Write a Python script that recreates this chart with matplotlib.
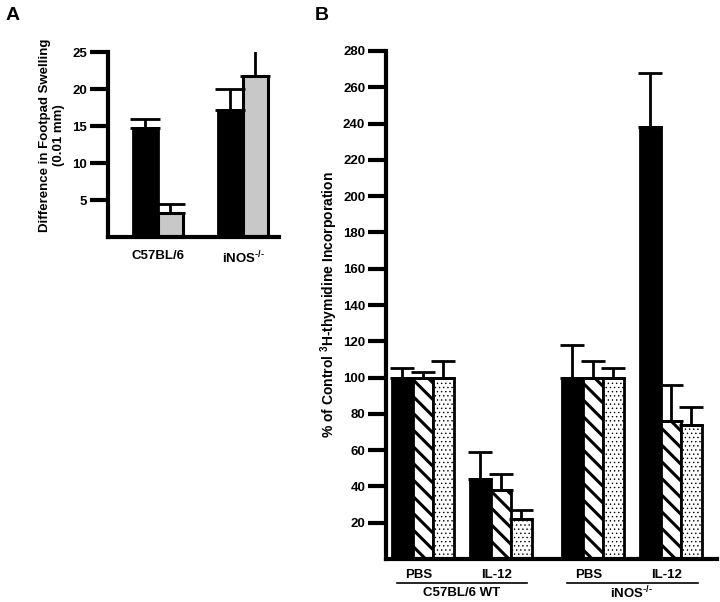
import numpy as np
import matplotlib
matplotlib.use('Agg')
import matplotlib.pyplot as plt

plt.rcParams['font.family'] = ['Liberation Sans', 'DejaVu Sans']
plt.rcParams['font.weight'] = 'bold'
plt.rcParams['axes.labelweight'] = 'bold'
plt.rcParams['mathtext.fontset'] = 'custom'
plt.rcParams['mathtext.rm'] = 'Liberation Sans:bold'
plt.rcParams['mathtext.bf'] = 'Liberation Sans:bold'
plt.rcParams['mathtext.default'] = 'bf'
plt.rcParams['hatch.linewidth'] = 2.2

# panel A: footpad swelling
a_groups = ['C57BL/6', r'iNOS$^{\text{-/-}}$']
a_black = [14.7, 17.2]
a_black_top = [16.0, 20.0]
a_gray = [3.2, 21.8]
a_gray_top = [4.5, 25.5]

# panel B: 3H-thymidine incorporation, 4 groups x 3 bars
b_sub = ['PBS', 'IL-12', 'PBS', 'IL-12']
b_strains = ['C57BL/6 WT', r'iNOS$^{\text{-/-}}$']
b_black = [100, 44, 100, 238]
b_black_top = [105.5, 59, 118, 268]
b_hatch = [100, 38, 100, 76]
b_hatch_top = [103, 47, 109, 96]
b_dot = [100, 22, 100, 74]
b_dot_top = [109, 27, 105.5, 84]

fig = plt.figure(figsize=(7.2, 6.02), dpi=100)

# ---- panel A
axA = fig.add_axes([0.150, 0.6063, 0.2375, 0.3073])
xa = np.array([0.0, 3.4])
w = 1.0
axA.bar(xa - w/2, a_black, w, color='black', edgecolor='black', linewidth=2)
axA.bar(xa + w/2, a_gray, w, color='#c8c8c8', edgecolor='black', linewidth=2.2)
axA.errorbar(xa - w/2, a_black, yerr=[np.zeros(2), np.array(a_black_top) - a_black],
             fmt='none', ecolor='black', elinewidth=2, capsize=11, capthick=2)
axA.errorbar(xa + w/2, a_gray, yerr=[np.zeros(2), np.array(a_gray_top) - a_gray],
             fmt='none', ecolor='black', elinewidth=2, capsize=11, capthick=2)
axA.set_xlim(-2.0, 4.84)
axA.set_ylim(0, 25)
axA.set_yticks([5, 10, 15, 20, 25])
axA.set_xticks(xa)
axA.set_xticklabels(a_groups, fontsize=9.5)
axA.tick_params(axis='x', length=0, pad=9)
axA.tick_params(axis='y', length=13, width=3, labelsize=9.5, pad=2)
axA.set_ylabel('Difference in Footpad Swelling\n(0.01 mm)', fontsize=9.5)
axA.yaxis.set_label_coords(-0.25, 0.55)
for s in ['top', 'right']:
    axA.spines[s].set_visible(False)
for s in ['left', 'bottom']:
    axA.spines[s].set_linewidth(3)

# ---- panel B
axB = fig.add_axes([0.5361, 0.0714, 0.4597, 0.8439])
xb = np.array([0.0, 3.8, 8.3, 12.1])
axB.bar(xb - w, b_black, w, color='black', edgecolor='black', linewidth=2)
axB.bar(xb, b_hatch, w, color='white', edgecolor='black', linewidth=2, hatch='\\\\')
with plt.rc_context({'hatch.linewidth': 0.5}):
    axB.bar(xb + w, b_dot, w, color='white', edgecolor='black', linewidth=2, hatch='....')
for off, vals, tops in [(-w, b_black, b_black_top), (0, b_hatch, b_hatch_top), (w, b_dot, b_dot_top)]:
    axB.errorbar(xb + off, vals, yerr=[np.zeros(4), np.array(tops) - np.array(vals)],
                 fmt='none', ecolor='black', elinewidth=2, capsize=8.5, capthick=2)
axB.set_xlim(-1.8, 14.35)
axB.set_ylim(0, 280)
axB.set_yticks(np.arange(20, 281, 20))
axB.set_xticks([])
axB.tick_params(axis='y', length=13, width=3, labelsize=9.5, pad=2)
axB.set_ylabel(r'% of Control $^{3}$H-thymidine Incorporation', fontsize=10, labelpad=2)
for s in ['top', 'right']:
    axB.spines[s].set_visible(False)
for s in ['left', 'bottom']:
    axB.spines[s].set_linewidth(3)

trans = axB.get_xaxis_transform()
for x, lab in zip(xb, b_sub):
    axB.text(x - 0.2, -0.032, lab, transform=trans, ha='center', va='center', fontsize=9.5)
for (x0, x1), lab in zip([(xb[0], xb[1]), (xb[2], xb[3])], b_strains):
    axB.plot([x0 - 1.25, x1 + 1.3], [-0.047, -0.047], transform=trans, color='black',
             linewidth=1.2, clip_on=False)
    axB.text((x0 + x1) / 2, -0.066, lab, transform=trans, ha='center', va='center', fontsize=9.5)

fig.text(0.008, 0.988, 'A', fontsize=14, va='top', ha='left')
fig.text(0.437, 0.988, 'B', fontsize=14, va='top', ha='left')

fig.savefig('out.png', dpi=100)
